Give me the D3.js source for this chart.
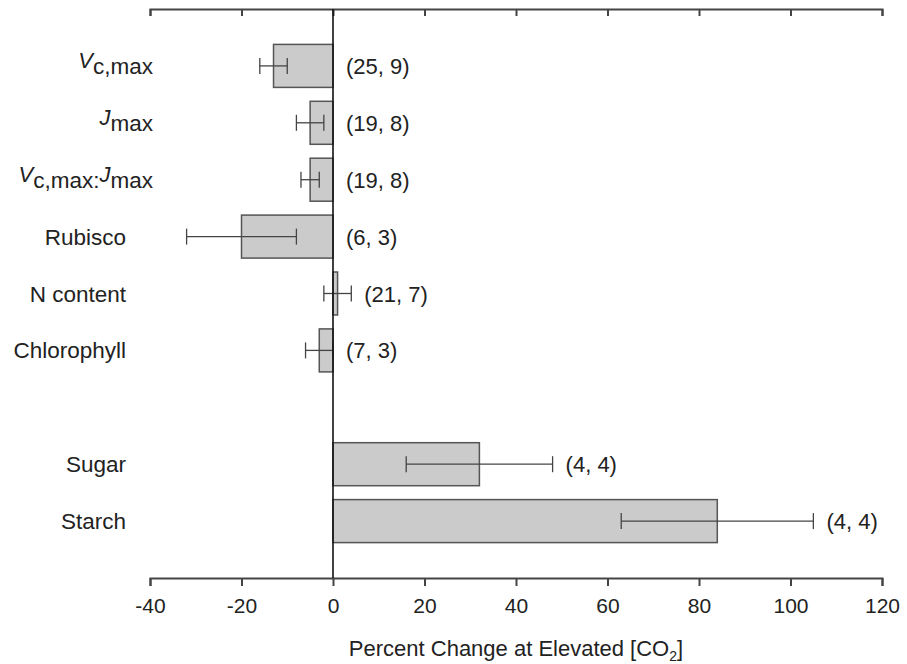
<!DOCTYPE html>
<html>
<head>
<meta charset="utf-8">
<script src="https://cdn.jsdelivr.net/npm/d3@7"></script>
<style>
  body { margin: 0; background: #fff; }
  svg text { font-family: "Liberation Sans", Arial, sans-serif; fill: #222; }
</style>
</head>
<body>
<svg id="chart" width="907" height="664"></svg>
<script>
// Data
const categories = ["Vc,max", "Jmax", "Vc,max:Jmax", "Rubisco", "N content", "Chlorophyll", "Sugar", "Starch"];
const values = [-13, -5, -5, -20, 1, -3, 32, 84];
const errors = [3, 3, 2, 12, 3, 3, 16, 21];
const counts = ["(25, 9)", "(19, 8)", "(19, 8)", "(6, 3)", "(21, 7)", "(7, 3)", "(4, 4)", "(4, 4)"];
const xTicks = [-40, -20, 0, 20, 40, 60, 80, 100, 120];

// Labels with italic symbols and subscripts
const labelParts = {
  "Vc,max": [["V", "main"], ["c,max", "sub"]],
  "Jmax": [["J", "main"], ["max", "sub"]],
  "Vc,max:Jmax": [["V", "main"], ["c,max:", "sub"], ["J", "main"], ["max", "sub"]]
};

const svg = d3.select('#chart');
const plotLeft = 150, plotRight = 882, plotTop = 9, plotBottom = 578;

const x = d3.scaleLinear().domain([-40, 120]).range([plotLeft, plotRight]);

// blank slot between the leaf traits and the carbohydrates
const slots = [...categories.slice(0, 6), "__gap", ...categories.slice(6)];
const y = d3.scalePoint().domain(slots).range([plotTop, plotBottom]).padding(1);
const barH = 43;

const data = categories.map((c, i) => ({ name: c, value: values[i], se: errors[i], n: counts[i] }));

// top axis (ticks only)
const topAxis = svg.append('g')
  .attr('transform', `translate(0,${plotTop})`)
  .call(d3.axisBottom(x).tickValues(xTicks).tickSize(7).tickFormat(''));
topAxis.select('.domain').attr('stroke', '#444').attr('stroke-width', 2);
topAxis.selectAll('.tick line').attr('stroke', '#444').attr('stroke-width', 2);

// bottom axis
const botAxis = svg.append('g')
  .attr('transform', `translate(0,${plotBottom})`)
  .call(d3.axisBottom(x).tickValues(xTicks).tickSize(8).tickSizeOuter(8).tickPadding(12)
    .tickFormat(d => String(d)));
botAxis.select('.domain').attr('stroke', '#444').attr('stroke-width', 2);
botAxis.selectAll('.tick line').attr('stroke', '#444').attr('stroke-width', 2);
botAxis.selectAll('.tick text').style('font-size', '21px').attr('fill', '#222');

// bars
svg.append('g').selectAll('rect')
  .data(data)
  .enter().append('rect')
  .attr('x', d => x(Math.min(0, d.value)))
  .attr('y', d => y(d.name) - barH / 2)
  .attr('width', d => Math.abs(x(d.value) - x(0)))
  .attr('height', barH)
  .attr('fill', '#cbcbcb')
  .attr('stroke', '#555')
  .attr('stroke-width', 1.5);

// error bars
const capH = 16;
const eb = svg.append('g').attr('stroke', '#444').attr('stroke-width', 1.3);
data.forEach(d => {
  const cy = y(d.name);
  eb.append('line').attr('x1', x(d.value - d.se)).attr('x2', x(d.value + d.se)).attr('y1', cy).attr('y2', cy);
  [d.value - d.se, d.value + d.se].forEach(v => {
    eb.append('line').attr('x1', x(v)).attr('x2', x(v)).attr('y1', cy - capH / 2).attr('y2', cy + capH / 2);
  });
});

// zero line
svg.append('line')
  .attr('x1', x(0)).attr('x2', x(0))
  .attr('y1', plotTop).attr('y2', plotBottom)
  .attr('stroke', '#111').attr('stroke-width', 1.6);

// sample size annotations
svg.append('g').selectAll('text')
  .data(data)
  .enter().append('text')
  .attr('x', d => x(Math.max(0, d.value + d.se)) + 13)
  .attr('y', d => y(d.name) + 8)
  .style('font-size', '22px')
  .text(d => d.n);

// category labels
data.forEach(d => {
  const cy = y(d.name);
  const parts = labelParts[d.name];
  const t = svg.append('text')
    .attr('text-anchor', 'end')
    .style('font-size', '22.5px');
  if (!parts) {
    t.attr('x', 126).attr('y', cy + 8).text(d.name);
    return;
  }
  t.attr('x', 153).attr('y', cy);
  let level = 0;
  parts.forEach(([txt, kind]) => {
    const target = kind === 'main' ? 2 : 8;
    const sp = t.append('tspan').attr('dy', target - level).text(txt);
    if (kind === 'main') sp.style('font-style', 'italic').style('font-size', '22px');
    level = target;
  });
});

// axis title
const title = svg.append('text')
  .attr('x', (plotLeft + plotRight) / 2)
  .attr('y', 656)
  .attr('text-anchor', 'middle')
  .style('font-size', '22px');
title.append('tspan').text('Percent Change at Elevated [CO');
title.append('tspan').attr('dy', 5).style('font-size', '14px').text('2');
title.append('tspan').attr('dy', -5).text(']');
</script>
</body>
</html>
